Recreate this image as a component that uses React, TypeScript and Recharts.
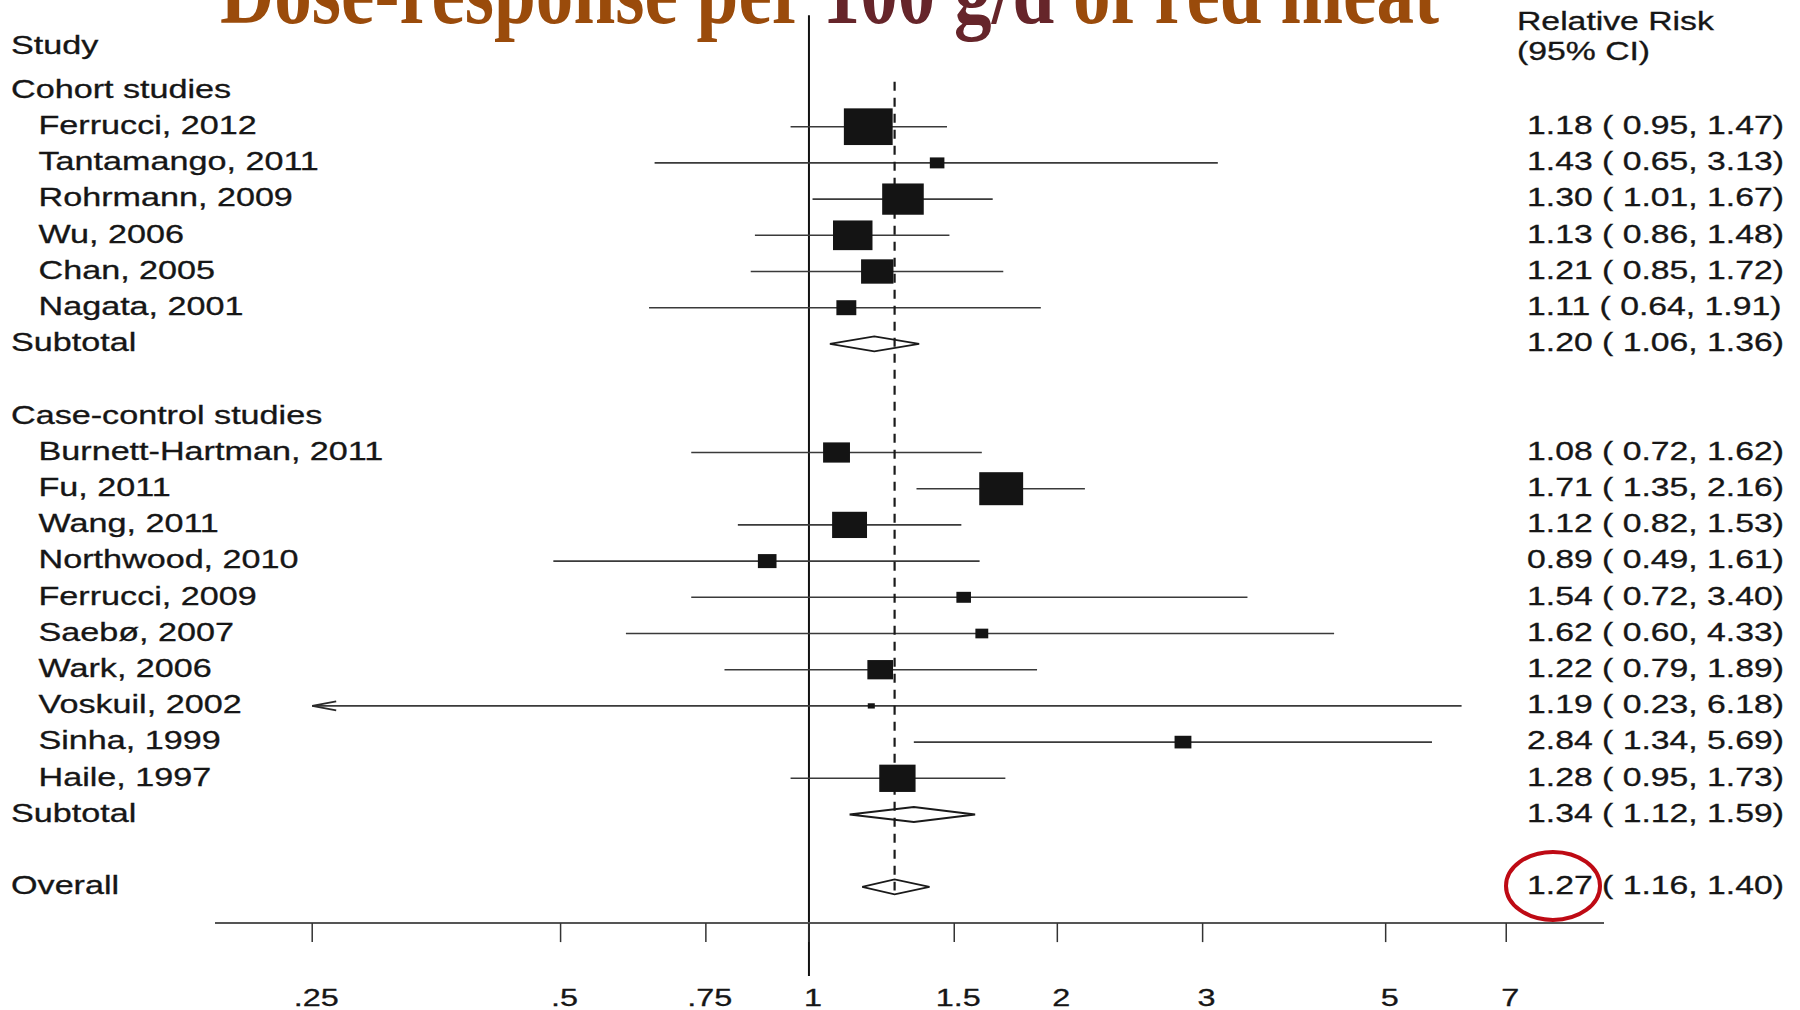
import React from "react";
import { ComposedChart, XAxis, YAxis, Scatter, ReferenceLine } from "recharts";

// ---------------- data ----------------
const cohortStudies = ["Ferrucci, 2012", "Tantamango, 2011", "Rohrmann, 2009", "Wu, 2006", "Chan, 2005", "Nagata, 2001"];
const cohortRR = [1.18, 1.43, 1.3, 1.13, 1.21, 1.11];
const cohortLo = [0.95, 0.65, 1.01, 0.86, 0.85, 0.64];
const cohortHi = [1.47, 3.13, 1.67, 1.48, 1.72, 1.91];
const cohortWeight = [16.8, 1.5, 12.2, 11.0, 7.4, 2.8];
const cohortSubtotal = [1.2, 1.06, 1.36];

const caseStudies = [
  "Burnett-Hartman, 2011", "Fu, 2011", "Wang, 2011", "Northwood, 2010", "Ferrucci, 2009",
  "Saebø, 2007", "Wark, 2006", "Voskuil, 2002", "Sinha, 1999", "Haile, 1997",
];
const caseRR = [1.08, 1.71, 1.12, 0.89, 1.54, 1.62, 1.22, 1.19, 2.84, 1.28];
const caseLo = [0.72, 1.35, 0.82, 0.49, 0.72, 0.6, 0.79, 0.23, 1.34, 0.95];
const caseHi = [1.62, 2.16, 1.53, 1.61, 3.4, 4.33, 1.89, 6.18, 5.69, 1.73];
const caseWeight = [5.1, 13.6, 8.6, 2.45, 1.5, 1.17, 4.65, 0.35, 2.0, 9.3];
const caseSubtotal = [1.34, 1.12, 1.59];

const overall = [1.27, 1.16, 1.4];

const axisTicks = [0.25, 0.5, 0.75, 1, 1.5, 2, 3, 5, 7];
const axisTickLabels = [".25", ".5", ".75", "1", "1.5", "2", "3", "5", "7"];

const titleParts = ["Dose-response per ", "100 g/d", " of red meat"];
const headerStudy = "Study";
const headerRR = ["Relative Risk", "(95% CI)"];
const groupLabels = ["Cohort studies", "Case-control studies"];
const subtotalLabel = "Subtotal";
const overallLabel = "Overall";

// ---------------- layout / style ----------------
const W = 1800;
const H = 1010;
const FONT = "'Liberation Sans', Arial, Helvetica, sans-serif";
const SERIF = "'Liberation Serif', 'Times New Roman', serif";
const SX = 1.35; // horizontal stretch of the original picture
const TXT = "#161616";
const BOX_K = 8.95;
const DIAMOND_HALF = 0.207; // rows
const X_DOMAIN: [number, number] = [0.1906, 9.196];
const Y_DOMAIN: [number, number] = [-2, 23];

const fmt = (v: number) => v.toFixed(2);
const ciText = (e: number, l: number, h: number) => `${fmt(e)} ( ${fmt(l)}, ${fmt(h)})`;

type Row = {
  x: number;
  y: number;
  label: string;
  indent: boolean;
  right: string;
  kind: "group" | "study" | "pooled";
  est?: number;
  lo?: number;
  hi?: number;
  w?: number;
  isOverall?: boolean;
};

const rows: Row[] = [];
let r = 0;
rows.push({ x: 1, y: r++, label: groupLabels[0], indent: false, right: "", kind: "group" });
cohortStudies.forEach((s, i) =>
  rows.push({
    x: 1, y: r++, label: s, indent: true, right: ciText(cohortRR[i], cohortLo[i], cohortHi[i]),
    kind: "study", est: cohortRR[i], lo: cohortLo[i], hi: cohortHi[i], w: cohortWeight[i],
  })
);
rows.push({
  x: 1, y: r++, label: subtotalLabel, indent: false, right: ciText(cohortSubtotal[0], cohortSubtotal[1], cohortSubtotal[2]),
  kind: "pooled", est: cohortSubtotal[0], lo: cohortSubtotal[1], hi: cohortSubtotal[2],
});
r++;
rows.push({ x: 1, y: r++, label: groupLabels[1], indent: false, right: "", kind: "group" });
caseStudies.forEach((s, i) =>
  rows.push({
    x: 1, y: r++, label: s, indent: true, right: ciText(caseRR[i], caseLo[i], caseHi[i]),
    kind: "study", est: caseRR[i], lo: caseLo[i], hi: caseHi[i], w: caseWeight[i],
  })
);
rows.push({
  x: 1, y: r++, label: subtotalLabel, indent: false, right: ciText(caseSubtotal[0], caseSubtotal[1], caseSubtotal[2]),
  kind: "pooled", est: caseSubtotal[0], lo: caseSubtotal[1], hi: caseSubtotal[2],
});
r++;
rows.push({
  x: 1, y: r++, label: overallLabel, indent: false, right: ciText(overall[0], overall[1], overall[2]),
  kind: "pooled", est: overall[0], lo: overall[1], hi: overall[2], isOverall: true,
});

const studyRows = rows.filter((d) => d.kind === "study");
const squareData = studyRows.map((d) => ({ x: d.est as number, y: d.y, w: d.w as number }));
const pooledRows = rows.filter((d) => d.kind === "pooled");
const clipLo = axisTicks[0];
const clipHi = axisTicks[axisTicks.length - 1];

const diamondPoints = (d: Row) => [
  { x: d.lo as number, y: d.y },
  { x: d.est as number, y: d.y - DIAMOND_HALF },
  { x: d.hi as number, y: d.y },
  { x: d.est as number, y: d.y + DIAMOND_HALF },
  { x: d.lo as number, y: d.y },
];

const StretchText = (p: { x: number; y: number; size: number; anchor?: string; fill?: string; children: any }) => (
  <text
    transform={`translate(${p.x} ${p.y}) scale(${SX} 1)`}
    fontFamily={FONT}
    fontSize={p.size}
    fill={p.fill || TXT}
    stroke={p.fill || TXT}
    strokeWidth={0.3}
    textAnchor={p.anchor || "start"}
  >
    {p.children}
  </text>
);

const AxisTick = (props: any) => {
  const { x, y, payload } = props;
  const idx = axisTicks.indexOf(payload.value);
  return (
    <StretchText x={x + 4} y={y + 62} size={24} anchor="middle">
      {idx >= 0 ? axisTickLabels[idx] : String(payload.value)}
    </StretchText>
  );
};

const SquareShape = (props: any) => {
  const { cx, cy, payload } = props;
  const h = BOX_K * Math.sqrt(payload.w);
  const w = h * 1.33;
  return <rect x={cx - w / 2} y={cy - h / 2} width={w} height={h} fill="#141414" />;
};

const LabelShape = (props: any) => {
  const { cy, payload } = props;
  const d = payload as Row;
  const base = cy + 7.3;
  return (
    <g>
      <StretchText x={d.indent ? 38.5 : 11} y={base} size={25.3}>
        {d.label}
      </StretchText>
      {d.right ? (
        <StretchText x={1527} y={base} size={25}>
          {d.right}
        </StretchText>
      ) : null}
      {d.isOverall ? (
        <ellipse cx={1553} cy={cy - 1} rx={47} ry={34} fill="none" stroke="#BE0A14" strokeWidth={4} />
      ) : null}
    </g>
  );
};

const Empty = () => <g />;

const ciShape = (arrowLeft: boolean, arrowRight: boolean) => (p: any) => {
  const { x1, y1, x2, y2 } = p;
  return (
    <g>
      <line x1={x1} y1={y1} x2={x2} y2={y2} stroke="#3a3a3a" strokeWidth={1.6} />
      {arrowLeft ? (
        <path d={`M${x1 + 24},${y1 - 4.5} L${x1},${y1} L${x1 + 24},${y1 + 4.5}`} fill="none" stroke="#2a2a2a" strokeWidth={1.8} />
      ) : null}
      {arrowRight ? (
        <path d={`M${x2 - 24},${y2 - 4.5} L${x2},${y2} L${x2 - 24},${y2 + 4.5}`} fill="none" stroke="#2a2a2a" strokeWidth={1.8} />
      ) : null}
    </g>
  );
};

export default function App() {
  return (
    <div style={{ position: "absolute", left: 0, top: 0, width: W, height: H, background: "#fff" }}>
      <ComposedChart width={W} height={H} margin={{ top: 18.1, right: 196, bottom: 26.9, left: 215 }}>
        <XAxis
          dataKey="x"
          type="number"
          scale="log"
          domain={X_DOMAIN}
          ticks={axisTicks}
          interval={0}
          tickSize={19}
          tickMargin={2}
          height={60}
          axisLine={{ stroke: "#555", strokeWidth: 2 }}
          tickLine={{ stroke: "#333", strokeWidth: 1.5 }}
          tick={AxisTick}
        />
        <YAxis dataKey="y" type="number" domain={Y_DOMAIN} reversed hide />

        <ReferenceLine
          segment={[{ x: 1, y: -2.08 }, { x: 1, y: 24.46 }]}
          stroke="#111"
          strokeWidth={2}
          ifOverflow="visible"
        />

        {studyRows.map((d, i) => {
          const lo = Math.max(d.lo as number, clipLo);
          const hi = Math.min(d.hi as number, clipHi);
          return (
            <ReferenceLine
              key={"ci" + i}
              segment={[{ x: lo, y: d.y }, { x: hi, y: d.y }]}
              ifOverflow="visible"
              shape={ciShape((d.lo as number) < clipLo, (d.hi as number) > clipHi)}
            />
          );
        })}

        <Scatter data={squareData} shape={SquareShape} isAnimationActive={false} legendType="none" />

        <ReferenceLine
          segment={[{ x: overall[0], y: -0.24 }, { x: overall[0], y: 22.1 }]}
          stroke="#1a1a1a"
          strokeWidth={2.2}
          strokeDasharray="9 7"
          ifOverflow="visible"
        />

        {pooledRows.map((d, i) => (
          <Scatter
            key={"dm" + i}
            data={diamondPoints(d)}
            line={{ stroke: "#1a1a1a", strokeWidth: 1.8, fill: "none" }}
            lineType="joint"
            shape={Empty}
            isAnimationActive={false}
            legendType="none"
          />
        ))}

        <Scatter data={rows} shape={LabelShape} isAnimationActive={false} legendType="none" />
      </ComposedChart>

      <svg
        width={W}
        height={H}
        style={{ position: "absolute", left: 0, top: 0, pointerEvents: "none" }}
      >
        <text
          x={220}
          y={23}
          fontFamily={SERIF}
          fontWeight="bold"
          fontSize={92}
          textLength={1219}
          lengthAdjust="spacingAndGlyphs"
        >
          <tspan fill="#9A4B0B">{titleParts[0]}</tspan>
          <tspan fill="#66252A">{titleParts[1]}</tspan>
          <tspan fill="#9A4B0B">{titleParts[2]}</tspan>
        </text>
        <StretchText x={11} y={53.5} size={25.3}>
          {headerStudy}
        </StretchText>
        <StretchText x={1517} y={30} size={25}>
          {headerRR[0]}
        </StretchText>
        <StretchText x={1517} y={59.5} size={25}>
          {headerRR[1]}
        </StretchText>
      </svg>
    </div>
  );
}
